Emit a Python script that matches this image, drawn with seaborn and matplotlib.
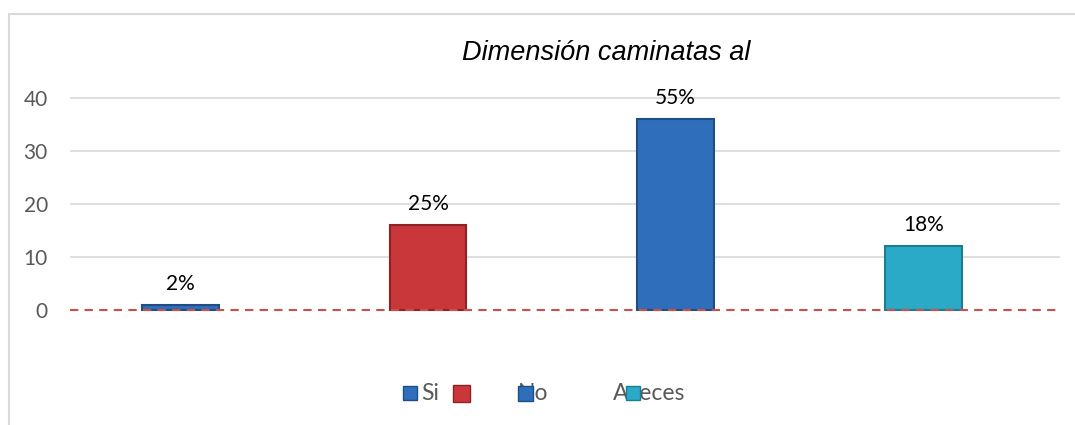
import numpy as np
import pandas as pd
import matplotlib
matplotlib.use('Agg')
import matplotlib.pyplot as plt
from matplotlib.patches import Rectangle
import seaborn as sns

# Data
bar_ids = ['b1', 'b2', 'b3', 'b4']
values = [1, 16, 36, 12]
pct_labels = ['2%', '25%', '55%', '18%']
legend_labels = ['Si', '', 'No', 'Aveces']
bar_colors = ['#2F6EBA', '#C9373A', '#2F6EBA', '#2AAAC6']
edge_colors = ['#1F4E85', '#8E2326', '#1F4E85', '#1C7C93']
y_ticks = [0, 10, 20, 30, 40]

df = pd.DataFrame({'id': bar_ids, 'valor': values})

sns.set_style('white')
plt.rcParams['font.family'] = ['Lato', 'DejaVu Sans']

fig = plt.figure(figsize=(10.75, 4.25), dpi=100)
ax = fig.add_axes([0.0651, 0.1412, 0.921, 0.6588])

sns.barplot(data=df, x='id', y='valor', hue='id', palette=bar_colors,
            saturation=1, width=0.31, legend=False, ax=ax, zorder=2, linewidth=1.5)
for patch, ec in zip(ax.patches, edge_colors):
    patch.set_edgecolor(ec)

# value labels
for i, (v, lab) in enumerate(zip(values, pct_labels)):
    ax.annotate(lab, (i, v), xytext=(0, 8), textcoords='offset points',
                ha='center', va='bottom', fontsize=15, color='black')

# gridlines and dashed zero line
for t in y_ticks[1:]:
    ax.axhline(t, color='#D9D9D9', lw=1.2, zorder=0)
ax.axhline(0, color='#C9504D', lw=1.5, dashes=(4, 3), zorder=3)

ax.set_xlim(-0.446, 3.553)
ax.set_ylim(-10.4, 42.5)
ax.set_yticks(y_ticks)
ax.set_yticklabels([str(t) for t in y_ticks], fontsize=15, color='#595959')
ax.tick_params(axis='y', length=0, pad=16)
ax.set_xticks([])
ax.set_xlabel('')
ax.set_ylabel('')
for s in ax.spines.values():
    s.set_visible(False)

fig.text(606 / 1075, 1 - 53 / 425, 'Dimensión caminatas al', fontsize=19.5, style='italic',
         family='Liberation Sans', ha='center', va='center', color='black')

# outer chart border
fig.patches.append(Rectangle((9 / 1075, -0.05), 1.1, 1 - 14 / 425 + 0.05,
                             transform=fig.transFigure, fill=False,
                             edgecolor='#D9D9D9', lw=1.5))

# legend (as drawn in the original, with overlapping markers)
sq_x = [403, 453, 518, 626]
sq_w = [14, 17, 15, 14]
txt_x = [421, 453, 518, 613]
for lab, c, ec, sx, sw, tx in zip(legend_labels, bar_colors, edge_colors, sq_x, sq_w, txt_x):
    if lab:
        fig.text(tx / 1075, 1 - 393 / 425, lab, fontsize=16.5, color='#595959',
                 ha='left', va='center')
    fig.patches.append(Rectangle((sx / 1075, 1 - (393 + sw / 2) / 425), sw / 1075, sw / 425,
                                 transform=fig.transFigure, facecolor=c,
                                 edgecolor=ec, lw=1, zorder=5))

fig.savefig('out.png', dpi=100, facecolor='white')
